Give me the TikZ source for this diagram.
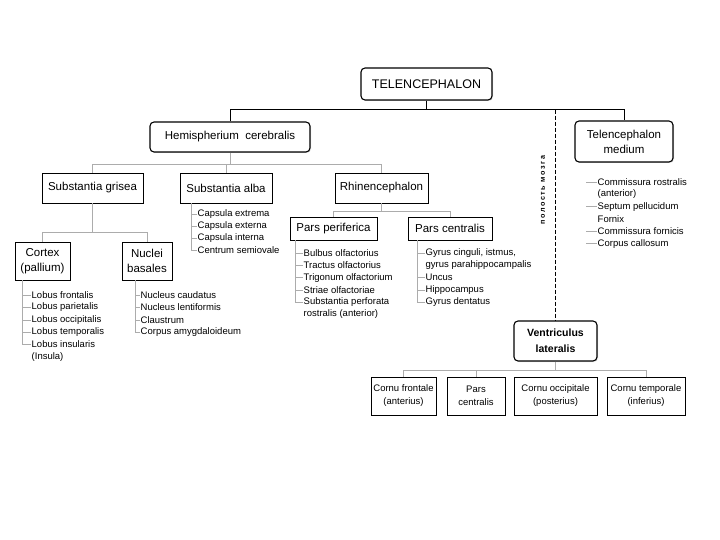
\documentclass[tikz,border=0pt]{standalone}
\usepackage{fontspec}
\setmainfont{Liberation Sans}
\newfontfamily\cavityfont[LetterSpace=22]{Liberation Sans}
\usepackage{tikz}
\usetikzlibrary{positioning,calc,shadows}

\begin{document}
\begin{tikzpicture}[x=1pt, y=-1pt,
    mainbox/.style={rectangle, draw, line width=1.1pt, rounded corners=4pt, fill=white, align=center, inner sep=2pt, font=\fontsize{11.5}{15}\selectfont,
        drop shadow={shadow xshift=1pt, shadow yshift=-1pt, opacity=0.25}},
    partbox/.style={rectangle, draw, line width=0.6pt, fill=white, align=center, inner sep=2pt, font=\fontsize{11.5}{15}\selectfont,
        drop shadow={shadow xshift=1.3pt, shadow yshift=-1.3pt, fill=black, opacity=1}},
    hornbox/.style={rectangle, draw, line width=0.5pt, align=center, inner sep=1pt, font=\fontsize{9.5}{13}\selectfont},
    leaf/.style={anchor=west, inner sep=0.5pt, font=\fontsize{9.5}{11}\selectfont},
    trunk/.style={line width=0.8pt},
    twig/.style={draw=gray!65, line width=0.6pt}]
    \useasboundingbox (0,0) rectangle (720,540);

    % top level
    \node [mainbox, font=\fontsize{12.5}{15}\selectfont, minimum width=131pt, minimum height=32pt] (tel) at (426.5,84) {TELENCEPHALON};
    \node [mainbox, minimum width=160pt, minimum height=30pt] (hemi) at (230,137) {Hemispherium\ \ cerebralis};
    \node [mainbox, minimum width=98pt, minimum height=41pt] (med) at (624,141.5) {Telencephalon\\medium};

    % hemispherium parts
    \node [partbox, minimum width=101pt, minimum height=30pt] (grisea) at (92.5,188) {Substantia grisea};
    \node [partbox, minimum width=92pt, minimum height=30pt] (alba) at (226,188) {Substantia alba};
    \node [partbox, minimum width=93pt, minimum height=30pt] (rhin) at (381.5,188) {Rhinencephalon};
    \node [partbox, minimum width=87pt, minimum height=23pt] (peri) at (333.5,228.5) {Pars periferica};
    \node [partbox, minimum width=84pt, minimum height=23pt] (centr) at (450,228.5) {Pars centralis};
    \node [partbox, minimum width=55pt, minimum height=38pt] (cortex) at (42.5,261) {Cortex\\(pallium)};
    \node [partbox, minimum width=50pt, minimum height=38pt] (nuclei) at (147,261) {Nuclei\\basales};

    % ventriculus lateralis
    \node [mainbox, font=\bfseries\fontsize{10.5}{16}\selectfont, minimum width=83pt, minimum height=40pt] (vent) at (555.5,341) {Ventriculus\\lateralis};
    \node [hornbox, minimum width=65pt, minimum height=38pt] (hfront) at (403.5,396) {Cornu frontale\\(anterius)};
    \node [hornbox, minimum width=58pt, minimum height=38pt] (hcent) at (476,396) {Pars\\centralis};
    \node [hornbox, minimum width=83pt, minimum height=38pt] (hocc) at (555.5,396) {Cornu occipitale\\(posterius)};
    \node [hornbox, minimum width=78pt, minimum height=38pt] (htemp) at (646,396) {Cornu temporale\\(inferius)};

    \node [rotate=90, font=\cavityfont\fontsize{7.2}{8}\selectfont\bfseries] (cavity) at (543,190) {полость мозга};

    % lists
    \foreach \txt [count=\i] in {Lobus frontalis, Lobus parietalis, Lobus occipitalis, Lobus temporalis, Lobus insularis, (Insula)}
        \node [leaf] (cx\i) at (31,282.6+12.4*\i) {\txt};
    \foreach \txt [count=\i] in {Nucleus caudatus, Nucleus lentiformis, Claustrum, Corpus amygdaloideum}
        \node [leaf] (nb\i) at (140,282.6+12.4*\i) {\txt};
    \foreach \txt [count=\i] in {Capsula extrema, Capsula externa, Capsula interna, Centrum semiovale}
        \node [leaf] (sa\i) at (197,202+12*\i) {\txt};
    \foreach \txt [count=\i] in {Bulbus olfactorius, Tractus olfactorius, Trigonum olfactorium, Striae olfactoriae, Substantia perforata, rostralis (anterior)}
        \node [leaf] (pp\i) at (303,240.7+12.3*\i) {\txt};
    \foreach \txt [count=\i] in {{Gyrus cinguli, istmus,}, gyrus parahippocampalis, Uncus, Hippocampus, Gyrus dentatus}
        \node [leaf] (pc\i) at (425,240.7+12.3*\i) {\txt};
    \foreach \txt [count=\i] in {Commissura rostralis, (anterior), Septum pellucidum, Fornix, Commissura fornicis, Corpus callosum}
        \node [leaf] (md\i) at (597,169.8+12.3*\i) {\txt};

    % connectors
    \coordinate (bar) at ($(tel.south)+(0,9)$);
    \draw [trunk] (tel.south) -- (bar);
    \draw [trunk] (hemi.north) |- (bar) -| (med.north);
    \draw [dash pattern=on 4pt off 2pt, line width=0.6pt] (vent.north |- bar) -- (vent.north);

    \coordinate (hb) at ($(hemi.south)+(0,12)$);
    \draw [twig] (hemi.south) -- (hb);
    \draw [twig] (grisea.north) |- (hb) -| (rhin.north);
    \draw [twig] (alba.north) -- (alba.north |- hb);

    \coordinate (gb) at ($(grisea.south)+(0,29)$);
    \draw [twig] (grisea.south) -- (gb);
    \draw [twig] (cortex.north) |- (gb) -| (nuclei.north);

    \coordinate (rb) at ($(rhin.south)+(0,8)$);
    \draw [twig] (rhin.south) -- (rb);
    \draw [twig] (peri.north) |- (rb) -| (centr.north);

    \coordinate (vb) at ($(vent.south)+(0,9)$);
    \draw [twig] (vent.south) -- (vb);
    \draw [twig] (hfront.north) |- (vb) -| (htemp.north);
    \draw [twig] (hcent.north) -- (hcent.north |- vb);

    % brackets of the lists
    \coordinate (cxspine) at ($(cortex.south)+(-20.5,0)$);
    \coordinate (nbspine) at ($(nuclei.south)+(-12,0)$);
    \coordinate (saspine) at ($(alba.south)+(-35,0)$);
    \coordinate (ppspine) at ($(peri.south)+(-38.5,0)$);
    \coordinate (pcspine) at ($(centr.south)+(-33,0)$);
    \foreach \i in {1,...,5} \draw [twig] (cxspine) |- (cx\i.west);
    \foreach \i in {1,...,4} \draw [twig] (nbspine) |- (nb\i.west);
    \foreach \i in {1,...,4} \draw [twig] (saspine) |- (sa\i.west);
    \foreach \i in {1,...,5} \draw [twig] (ppspine) |- (pp\i.west);
    \foreach \i in {1,3,4,5} \draw [twig] (pcspine) |- (pc\i.west);
    \foreach \i in {1,3,5,6} \draw [twig] ($(md\i.west)+(-11,0)$) -- (md\i.west);
\end{tikzpicture}
\end{document}
